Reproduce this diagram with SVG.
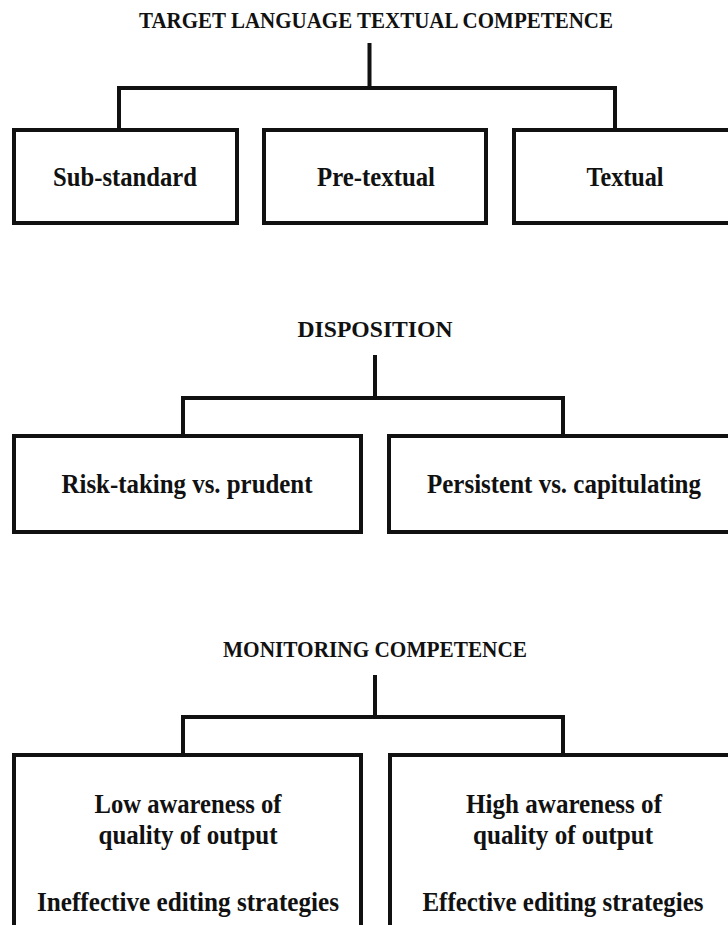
<svg xmlns="http://www.w3.org/2000/svg" width="728" height="925" viewBox="0 0 728 925">
  <style>
    .box { fill: #ffffff; stroke: #111111; stroke-width: 4; }
    .wire { fill: none; stroke: #111111; stroke-width: 4; stroke-linejoin: miter; stroke-linecap: butt; }
    text { font-family: "Liberation Serif", "Times New Roman", serif; font-weight: bold; fill: #111111; text-anchor: middle; }
    .head { font-size: 24px; }
    .label { font-size: 26.5px; }
  </style>
  <rect width="728" height="925" fill="#ffffff"/>

  <!-- Tree 1: target language textual competence -->
  <g id="textual-competence">
    <text class="head" x="376" y="28" textLength="474" lengthAdjust="spacingAndGlyphs">TARGET LANGUAGE TEXTUAL COMPETENCE</text>
  </g>
  <g id="sub-standard">
    <rect class="box" x="14" y="130" width="223" height="93"/>
    <text class="label" x="125" y="186" textLength="144" lengthAdjust="spacingAndGlyphs">Sub-standard</text>
  </g>
  <g id="pre-textual">
    <rect class="box" x="264" y="130" width="222" height="93"/>
    <text class="label" x="376" y="186" textLength="118" lengthAdjust="spacingAndGlyphs">Pre-textual</text>
  </g>
  <g id="textual">
    <rect class="box" x="514" y="130" width="260" height="93"/>
    <text class="label" x="625" y="186" textLength="77" lengthAdjust="spacingAndGlyphs">Textual</text>
  </g>

  <!-- Tree 2: disposition -->
  <g id="disposition">
    <text class="head" x="375" y="337" textLength="155" lengthAdjust="spacingAndGlyphs">DISPOSITION</text>
  </g>
  <g id="risk-taking">
    <rect class="box" x="14" y="436" width="347" height="96"/>
    <text class="label" x="187" y="493" textLength="251" lengthAdjust="spacingAndGlyphs">Risk-taking vs. prudent</text>
  </g>
  <g id="persistent">
    <rect class="box" x="389" y="436" width="380" height="96"/>
    <text class="label" x="564" y="493" textLength="274" lengthAdjust="spacingAndGlyphs">Persistent vs. capitulating</text>
  </g>

  <!-- Tree 3: monitoring competence -->
  <g id="monitoring-competence">
    <text class="head" x="375" y="657" textLength="304" lengthAdjust="spacingAndGlyphs">MONITORING COMPETENCE</text>
  </g>
  <g id="low-awareness">
    <rect class="box" x="14" y="755" width="347" height="200"/>
    <text class="label" x="188" y="813" textLength="187" lengthAdjust="spacingAndGlyphs">Low awareness of</text>
    <text class="label" x="188" y="844" textLength="179" lengthAdjust="spacingAndGlyphs">quality of output</text>
    <text class="label" x="188" y="911" textLength="302" lengthAdjust="spacingAndGlyphs">Ineffective editing strategies</text>
  </g>
  <g id="high-awareness">
    <rect class="box" x="390" y="755" width="380" height="200"/>
    <text class="label" x="564" y="813" textLength="196" lengthAdjust="spacingAndGlyphs">High awareness of</text>
    <text class="label" x="563" y="844" textLength="180" lengthAdjust="spacingAndGlyphs">quality of output</text>
    <text class="label" x="563" y="911" textLength="281" lengthAdjust="spacingAndGlyphs">Effective editing strategies</text>
  </g>

  <!-- Connectors: stem from each heading, then a bracket down to the boxes -->
  <g id="connectors">
    <path class="wire" d="M369.5 43 V88 M119 128 V88 H615 V128"/>
    <path class="wire" d="M375 355 V398 M183 434 V398 H563 V434"/>
    <path class="wire" d="M375 675 V717 M183 753 V717 H563 V753"/>
  </g>
</svg>
